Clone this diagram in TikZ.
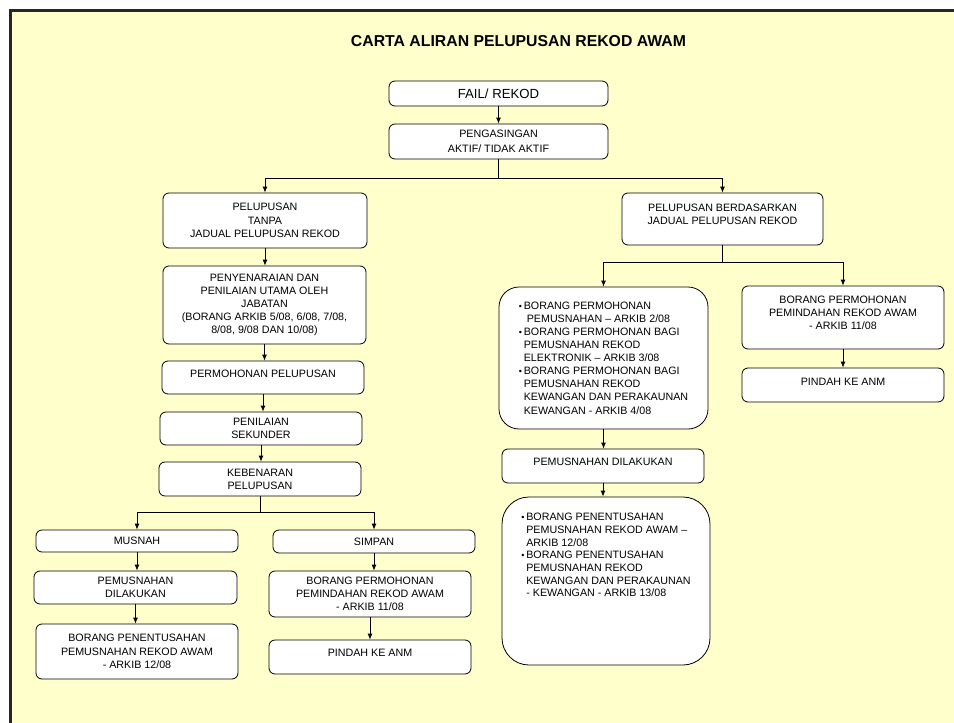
\documentclass[tikz,border=0pt]{standalone}
\usepackage{fontspec}
\setmainfont{Liberation Sans}
\usetikzlibrary{arrows.meta}
\definecolor{kertas}{HTML}{FFFFCC}
\newcommand{\butir}{\makebox[5pt][l]{\small\textbullet}}
\newcommand{\sela}{\hspace*{5pt}}
\newcommand{\turun}[1]{\rule[-#1]{0pt}{0pt}}

\begin{document}
\begin{tikzpicture}[x=1pt, y=-1pt, every node/.style={font=\fontsize{10.7}{13.2}\selectfont}]
\tikzstyle{blk}=[draw, fill=white, line width=0.8pt, rounded corners=6pt, minimum width=202pt, minimum height=33pt, inner sep=2pt, align=center]
\tikzstyle{arr}=[-{Latex[length=6pt,width=5pt]}, line width=0.8pt]
\useasboundingbox (0,0) rectangle (954,723);
\fill[white] (0,0) rectangle (954,723);
\fill[kertas] (10,10) rectangle (954,723);
\draw[line width=3pt, black!85] (954,10) -- (10,10) -- (10,723);
\node[font=\bfseries\fontsize{15.8}{18}\selectfont] (judul) at (518.5,41) {CARTA ALIRAN PELUPUSAN REKOD AWAM};
\node[blk, minimum width=219pt, minimum height=25pt, font=\fontsize{13.2}{15}\selectfont] (fail) at (498.5,93.5) {FAIL/ REKOD};
\node[blk, minimum width=219pt, minimum height=35pt, font=\fontsize{10.7}{15}\selectfont] (asing) at (498.5,141.5) {PENGASINGAN\\AKTIF/ TIDAK AKTIF};
% kiri: tanpa jadual
\node[blk, minimum width=204pt, minimum height=55pt] (tanpa) at (265,220.5) {PELUPUSAN\\TANPA\\JADUAL PELUPUSAN REKOD};
\node[blk, minimum width=203pt, minimum height=78pt] (penye) at (264.5,305) {PENYENARAIAN DAN\\PENILAIAN UTAMA OLEH\\JABATAN\\(BORANG ARKIB 5/08, 6/08, 7/08,\\8/08, 9/08 DAN 10/08)};
\node[blk] (permo) at (263,377.5) {PERMOHONAN PELUPUSAN\turun{8pt}};
\node[blk] (sekun) at (261,428.5) {PENILAIAN\\SEKUNDER};
\node[blk, minimum height=34pt] (kebe) at (260,479) {KEBENARAN\\PELUPUSAN};
\node[blk, minimum height=22pt] (musnah) at (137,541) {MUSNAH};
\node[blk, minimum height=23pt] (simpan) at (374,541.5) {SIMPAN};
\node[blk, minimum width=203pt] (pemL) at (135.5,587.5) {PEMUSNAHAN\\DILAKUKAN};
\node[blk, minimum height=55pt] (penenL) at (137,651.5) {BORANG PENENTUSAHAN\\PEMUSNAHAN REKOD AWAM\\- ARKIB 12/08};
\node[blk, minimum height=46pt] (borS) at (370,594) {BORANG PERMOHONAN\\PEMINDAHAN REKOD AWAM\\- ARKIB 11/08};
\node[blk, minimum height=34pt] (pindS) at (370,657) {PINDAH KE ANM\turun{7.5pt}};
% kanan: berdasarkan jadual
\node[blk, minimum width=201pt, minimum height=52pt] (berda) at (722.5,219) {PELUPUSAN BERDASARKAN\\JADUAL PELUPUSAN REKOD\turun{10pt}};
\node[blk, minimum width=209pt, minimum height=142pt, rounded corners=20pt, align=left, font=\fontsize{10.7}{13.1}\selectfont] (butA) at (603.5,358) {\butir BORANG PERMOHONAN\\\sela\ PEMUSNAHAN – ARKIB 2/08\\\butir BORANG PERMOHONAN BAGI\\\sela PEMUSNAHAN REKOD\\\sela ELEKTRONIK – ARKIB 3/08\\\butir BORANG PERMOHONAN BAGI\\\sela PEMUSNAHAN REKOD\\\sela KEWANGAN DAN PERAKAUNAN\\\sela KEWANGAN - ARKIB 4/08};
\node[blk, minimum height=63pt] (borR) at (843,317.5) {BORANG PERMOHONAN\\PEMINDAHAN REKOD AWAM\\- ARKIB 11/08\turun{10pt}};
\node[blk, minimum height=34pt] (pindR) at (843,385) {PINDAH KE ANM\turun{7pt}};
\node[blk, minimum height=34pt] (pemR) at (603,466) {PEMUSNAHAN DILAKUKAN\turun{8pt}};
\node[blk, minimum width=208pt, minimum height=168pt, rounded corners=27pt, align=left, font=\fontsize{10.7}{12.7}\selectfont] (butB) at (606,581) {\butir BORANG PENENTUSAHAN\\\sela PEMUSNAHAN REKOD AWAM –\\\sela ARKIB 12/08\\\butir BORANG PENENTUSAHAN\\\sela PEMUSNAHAN REKOD\\\sela KEWANGAN DAN PERAKAUNAN\\\sela - KEWANGAN - ARKIB 13/08\turun{52pt}};
\coordinate (j1) at (498.5,178);
\coordinate (j2) at (722.5,262);
\coordinate (j3) at (260,512);
\draw[arr] (fail) -- (asing);
\draw[line width=0.8pt] (asing) -- (j1);
\draw[arr] (j1) -| (tanpa);
\draw[arr] (j1) -| (berda);
\draw[arr] (tanpa) -- (tanpa |- penye.north);
\draw[arr] (penye) -- (penye |- permo.north);
\draw[arr] (permo) -- (permo |- sekun.north);
\draw[arr] (sekun) -- (sekun |- kebe.north);
\draw[line width=0.8pt] (kebe) -- (j3);
\draw[arr] (j3) -| (musnah);
\draw[arr] (j3) -| (simpan);
\draw[arr] (musnah) -- (musnah |- pemL.north);
\draw[arr] (pemL) -- (pemL |- penenL.north);
\draw[arr] (simpan) -- (simpan |- borS.north);
\draw[arr] (borS) -- (borS |- pindS.north);
\draw[line width=0.8pt] (berda) -- (j2);
\draw[arr] (j2) -| (butA);
\draw[arr] (j2) -| (borR);
\draw[arr] (butA) -- (butA |- pemR.north);
\draw[arr] (pemR) -- (pemR |- butB.north);
\draw[arr] (borR) -- (borR |- pindR.north);
\end{tikzpicture}
\end{document}
